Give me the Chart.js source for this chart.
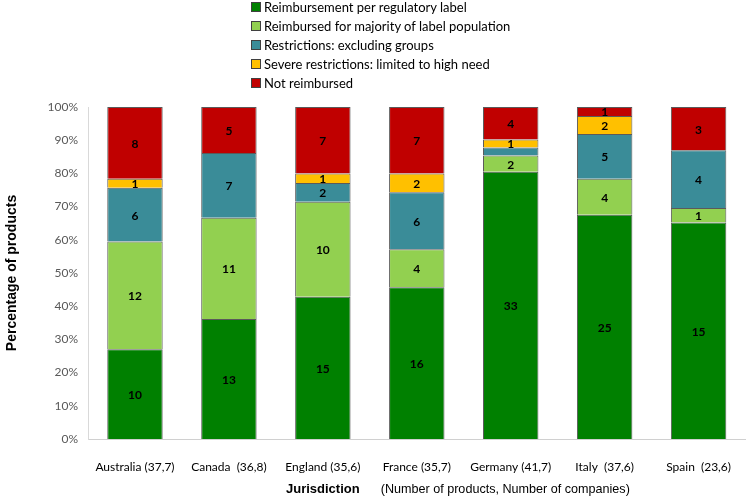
<!DOCTYPE html>
<html>
<head>
<meta charset="utf-8">
<script src="https://cdn.jsdelivr.net/npm/chart.js@4"></script>
<style>
    html, body { margin: 0; padding: 0; background: #fff; }
    #wrap { position: relative; width: 752px; height: 500px; }
    #chartReembolso { position: absolute; left: 0; top: 0; }
    #leyenda { position: absolute; left: 251px; top: -2px; font-family: Lato, sans-serif; font-size: 13px; color: #000; }
    #leyenda .it { height: 19px; line-height: 19px; white-space: nowrap; }
    #leyenda .sw { display: inline-block; width: 8px; height: 8px; border: 1px solid #404040; margin-right: 3px; vertical-align: -0px; }
    #tituloX { position: absolute; top: 481px; left: 286px; font-family: "Liberation Sans", Arial, sans-serif; font-size: 13px; white-space: pre; color: #000; }
    #tituloX b { margin-right: 21px; }
    #tituloX span { font-size: 12.6px; }
</style>
</head>
<body>
<div id="wrap">
    <canvas id="chartReembolso" width="752" height="500"></canvas>
    <div id="leyenda"></div>
    <div id="tituloX"><b>Jurisdiction</b><span>(Number of products, Number of companies)</span></div>
</div>
<script>
// ── Datos ─────────────────────────────────────────────────────────────────
var categorias = ['Australia (37,7)', 'Canada  (36,8)', 'England (35,6)', 'France (35,7)',
                  'Germany (41,7)', 'Italy  (37,6)', 'Spain  (23,6)'];
var series = ['Reimbursement per regulatory label', 'Reimbursed for majority of label population',
              'Restrictions: excluding groups', 'Severe restrictions: limited to high need', 'Not reimbursed'];
var reembolsoEtiqueta = [10, 13, 15, 16, 33, 25, 15];
var reembolsoMayoria  = [12, 11, 10, 4, 2, 4, 1];
var restricciones     = [6, 7, 2, 6, 1, 5, 4];
var restrSeveras      = [1, 0, 1, 2, 1, 2, 0];
var noReembolsado     = [8, 5, 7, 7, 4, 1, 3];
var etiquetasOcultas  = ['2-4'];   // serie-categoria sin número en el original
var ticksY = [0, 10, 20, 30, 40, 50, 60, 70, 80, 90, 100];

var colores = ['#008000', '#92D050', '#3A8C98', '#FFC000', '#C00000'];
var cuentas = [reembolsoEtiqueta, reembolsoMayoria, restricciones, restrSeveras, noReembolsado];

var totales = categorias.map(function (c, i) {
    return cuentas.reduce(function (s, arr) { return s + arr[i]; }, 0);
});

// ── Plugin: números dentro de cada segmento ───────────────────────────────
var etiquetasSegmento = {
    id: 'etiquetasSegmento',
    afterDatasetsDraw: function (chart) {
        var ctx = chart.ctx;
        ctx.save();
        ctx.font = 'bold 12px Lato, sans-serif';
        ctx.fillStyle = '#000';
        ctx.textAlign = 'center';
        ctx.textBaseline = 'middle';
        chart.data.datasets.forEach(function (ds, di) {
            chart.getDatasetMeta(di).data.forEach(function (bar, i) {
                var n = cuentas[di][i];
                if (!n || etiquetasOcultas.indexOf(di + '-' + i) > -1) return;
                ctx.fillText(String(n), bar.x, (bar.y + bar.base) / 2 + 1);
            });
        });
        ctx.restore();
    }
};

// ── Gráfico ───────────────────────────────────────────────────────────────
var chart = new Chart(document.getElementById('chartReembolso').getContext('2d'), {
    type: 'bar',
    data: {
        labels: categorias,
        datasets: series.map(function (nombre, k) {
            return {
                label: nombre,
                data: cuentas[k].map(function (v, i) { return v / totales[i] * 100; }),
                backgroundColor: colores[k],
                borderColor: '#5a5a5a',
                borderWidth: 1,
                barPercentage: 0.59,
                categoryPercentage: 1
            };
        })
    },
    plugins: [etiquetasSegmento],
    options: {
        responsive: false,
        animation: false,
        layout: { padding: { top: 107, right: 0, bottom: 0, left: 0 } },
        plugins: {
            legend: { display: false },
            tooltip: { enabled: false }
        },
        scales: {
            x: {
                stacked: true,
                grid: { display: false, drawTicks: false },
                border: { display: true, color: '#d0d0d0' },
                ticks: { color: '#000', padding: 21, maxRotation: 0, autoSkip: false,
                         font: { family: 'Lato, sans-serif', size: 12 } },
                afterFit: function (s) { s.height = 61; }
            },
            y: {
                stacked: true,
                min: 0,
                max: 100,
                afterBuildTicks: function (s) { s.ticks = ticksY.map(function (v) { return { value: v }; }); },
                grid: { display: false, drawTicks: false },
                border: { display: true, color: '#d9d9d9' },
                ticks: { color: '#595959', padding: 10,
                         font: { family: 'Lato, sans-serif', size: 12 },
                         callback: function (v) { return v + '%'; } },
                title: { display: true, text: 'Percentage of products', color: '#000',
                         font: { family: '"Liberation Sans", Arial, sans-serif', size: 14, weight: 'bold' },
                         padding: { top: 4, bottom: 0 } },
                afterFit: function (s) { s.width = 88; }
            }
        }
    }
});

// ── Leyenda vertical ──────────────────────────────────────────────────────
document.getElementById('leyenda').innerHTML = series.map(function (nombre, k) {
    return '<div class="it"><span class="sw" style="background:' + colores[k] + '"></span>' + nombre + '</div>';
}).join('');
</script>
</body>
</html>
